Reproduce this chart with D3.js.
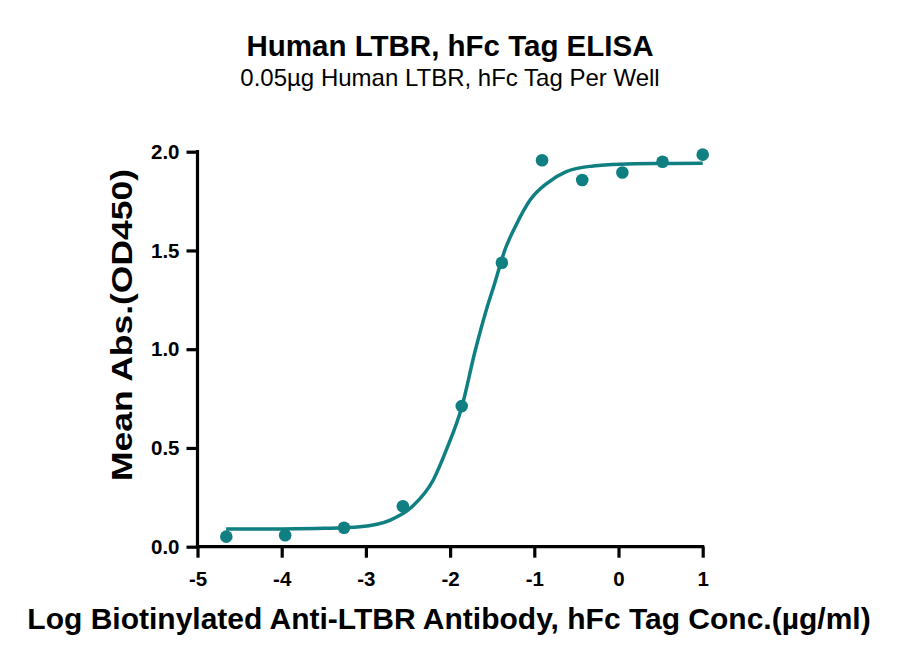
<!DOCTYPE html>
<html>
<head>
<meta charset="utf-8">
<script src="https://cdn.jsdelivr.net/npm/d3@7"></script>
<style>
  html, body { margin: 0; padding: 0; background: #fff; }
  svg { display: block; font-family: "Liberation Sans", Arial, sans-serif; }
</style>
</head>
<body>
<svg id="chart" width="900" height="662"></svg>
<script>
// Measured points (log concentration, mean OD450)
const logConc = [-4.658, -3.959, -3.260, -2.561, -1.862, -1.385, -0.908, -0.431, 0.046, 0.523, 1.0];
const meanAbs = [0.051, 0.058, 0.096, 0.205, 0.712, 1.438, 1.957, 1.857, 1.895, 1.949, 1.985];

// Fitted curve
const fitX = [-4.66, -4.0, -3.5, -3.07, -2.71, -2.44, -2.2, -2.04, -1.86, -1.70, -1.57, -1.47, -1.35, -1.21, -1.05, -0.85, -0.62, -0.30, 0.02, 0.5, 1.0];
const fitY = [0.089, 0.090, 0.093, 0.101, 0.135, 0.207, 0.338, 0.495, 0.709, 0.996, 1.199, 1.334, 1.502, 1.634, 1.755, 1.84, 1.899, 1.928, 1.937, 1.940, 1.941];

const xTicks = [-5, -4, -3, -2, -1, 0, 1];
const yTicks = [0.0, 0.5, 1.0, 1.5, 2.0];

const titleText = "Human LTBR, hFc Tag ELISA";
const subtitleText = "0.05\u00b5g Human LTBR, hFc Tag Per Well";
const xTitle = "Log Biotinylated Anti-LTBR Antibody, hFc Tag Conc.(\u00b5g/ml)";
const yTitle = "Mean Abs.(OD450)";

const teal = "#0f7f82";
const svg = d3.select("#chart");

const x = d3.scaleLinear().domain([-5, 1]).range([197.5, 702.7]);
const y = d3.scaleLinear().domain([0, 2]).range([546.7, 151.7]);

// Axes
const xAxis = svg.append("g")
  .attr("transform", `translate(0,${y(0)})`)
  .call(d3.axisBottom(x).tickValues(xTicks).tickSize(11).tickPadding(14).tickFormat(d => String(d)));
const yAxis = svg.append("g")
  .attr("transform", `translate(${x(-5)},0)`)
  .call(d3.axisLeft(y).tickValues(yTicks).tickSize(11).tickPadding(7).tickFormat(d3.format(".1f")));

[xAxis, yAxis].forEach(g => {
  g.select(".domain").attr("stroke", "#000").attr("stroke-width", 3.2)
    .attr("d", g === xAxis ? `M${x(-5)-1.6},0H${x(1)+1.6}` : `M0,${y(0)+1.6}V${y(2)-1.6}`);
  g.selectAll(".tick line").attr("stroke", "#000").attr("stroke-width", 3.2);
  g.selectAll(".tick text").attr("fill", "#000").attr("font-size", 20.5).attr("font-weight", "bold")
    .attr("font-family", "'Liberation Sans', Arial, sans-serif");
});

// Fitted curve
const fitData = fitX.map((v, i) => [v, fitY[i]]);
svg.append("path")
  .datum(fitData)
  .attr("fill", "none")
  .attr("stroke", teal)
  .attr("stroke-width", 3.5)
  .attr("d", d3.line().x(d => x(d[0])).y(d => y(d[1])).curve(d3.curveMonotoneX));

// Points
svg.append("g").selectAll("circle")
  .data(logConc.map((v, i) => [v, meanAbs[i]]))
  .join("circle")
  .attr("cx", d => x(d[0]))
  .attr("cy", d => y(d[1]))
  .attr("r", 6.3)
  .attr("fill", teal);

// Titles
svg.append("text").attr("x", 450).attr("y", 56).attr("text-anchor", "middle")
  .attr("font-size", 29.5).attr("font-weight", "bold").text(titleText);
svg.append("text").attr("x", 450).attr("y", 86).attr("text-anchor", "middle")
  .attr("font-size", 24).text(subtitleText);
svg.append("text").attr("x", 449).attr("y", 629).attr("text-anchor", "middle")
  .attr("font-size", 30).attr("font-weight", "bold").text(xTitle);
svg.append("text").attr("transform", `translate(132,325) rotate(-90)`).attr("text-anchor", "middle")
  .attr("font-size", 30).attr("font-weight", "bold")
  .attr("textLength", 312).attr("lengthAdjust", "spacingAndGlyphs").text(yTitle);
</script>
</body>
</html>
